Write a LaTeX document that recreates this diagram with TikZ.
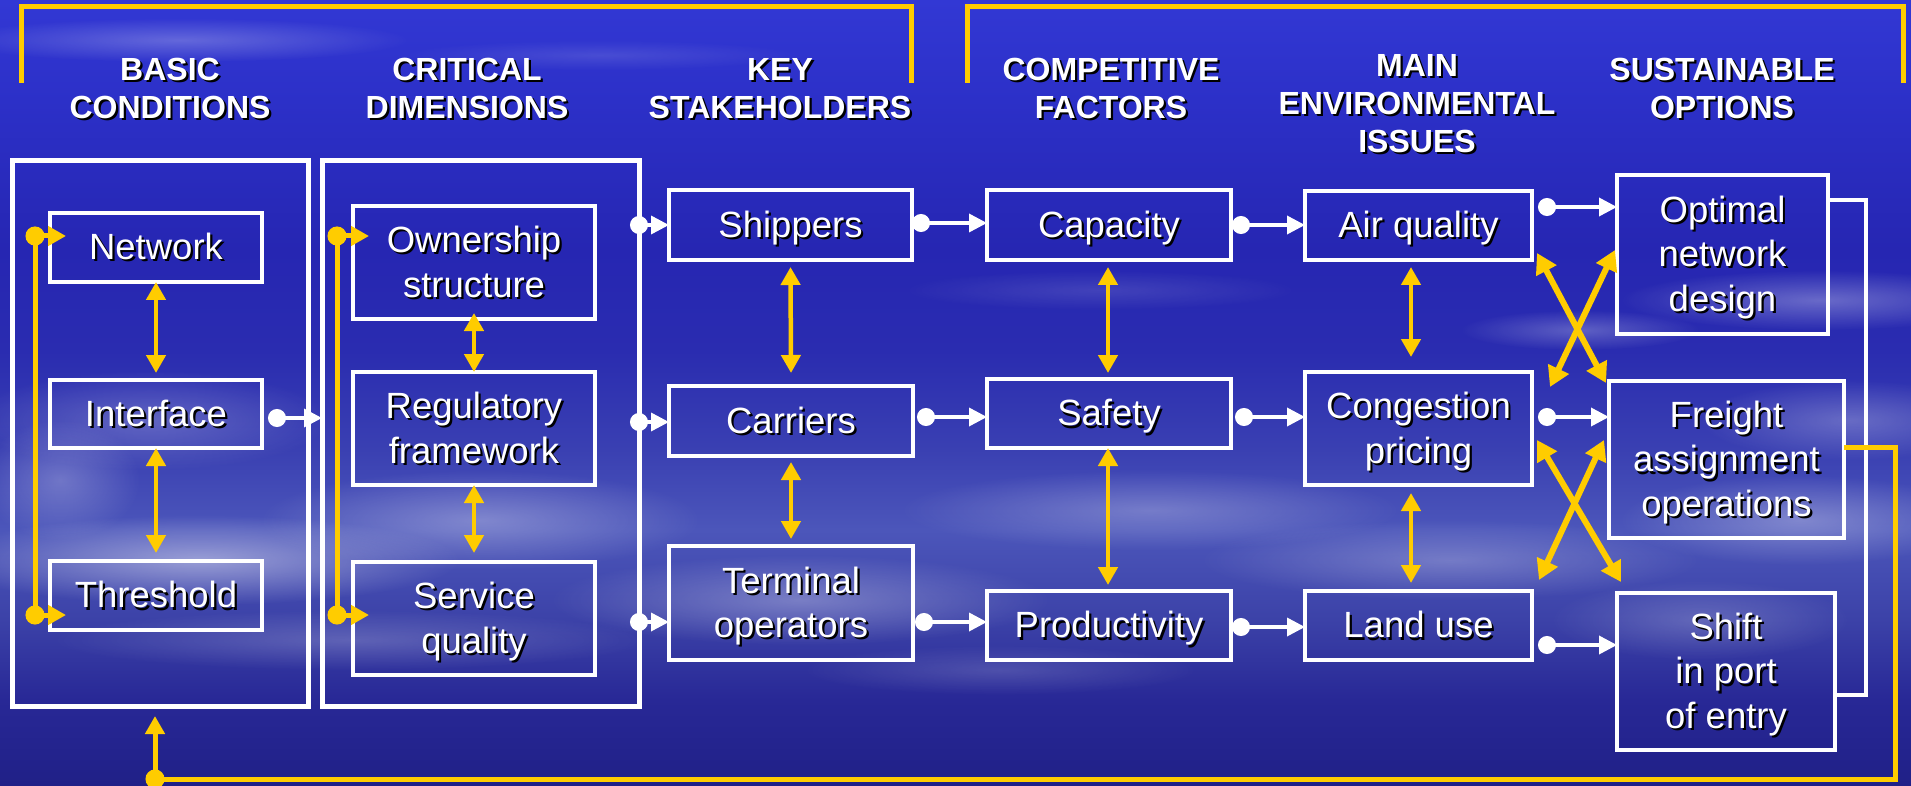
\documentclass[tikz,border=0pt]{standalone}
\usepackage{fontspec}
\setmainfont{Liberation Sans}
\usetikzlibrary{arrows.meta,calc,fadings}

\definecolor{gold}{RGB}{255,204,0}
\definecolor{bgA}{RGB}{50,56,212}
\definecolor{bgB}{RGB}{44,48,200}
\definecolor{bgC}{RGB}{38,38,178}
\definecolor{bgD}{RGB}{42,44,176}
\definecolor{bgE}{RGB}{58,64,178}
\definecolor{bgF}{RGB}{76,86,186}
\definecolor{bgG}{RGB}{60,66,168}
\definecolor{bgH}{RGB}{40,40,150}
\definecolor{bgI}{RGB}{32,32,135}

\pgfdeclareverticalshading{bgsh}{100bp}{%
color(0bp)=(bgI); color(25bp)=(bgI); color(30.5bp)=(bgH); color(35.6bp)=(bgG);
color(41.3bp)=(bgF); color(46.4bp)=(bgE); color(52.7bp)=(bgD); color(59.1bp)=(bgC);
color(68.6bp)=(bgB); color(75bp)=(bgA); color(100bp)=(bgA)}

\tikzfading[name=cloudfade, inner color=transparent!0, outer color=transparent!100]

\newcommand{\shtab}[1]{\rlap{\kern2.2pt\raisebox{-2.2pt}{\color{black}\begin{tabular}{@{}c@{}}#1\end{tabular}}}\begin{tabular}{@{}c@{}}#1\end{tabular}}
\newcommand{\boxtxt}[1]{\raisebox{-4.5pt}[\height][\depth]{\shtab{#1}}}

\tikzset{
  bx/.style={draw=white, line width=4pt, inner sep=0pt, outer sep=0pt, text=white,
    font=\fontsize{36.5}{44.5}\selectfont},
  cont/.style={draw=white, line width=5pt, inner sep=0pt, outer sep=0pt},
  hdr/.style={text=white, inner sep=0pt, font=\fontsize{32}{38}\selectfont\bfseries},
  warr/.style={draw=white, line width=3.5pt,
    {Circle[length=18pt,width=18pt]}-{Triangle[length=18pt,width=18pt]}},
  ydarr/.style={draw=gold, line width=4.5pt,
    {Triangle[length=18pt,width=19pt]}-{Triangle[length=18pt,width=19pt]}},
  xarr/.style={draw=gold, line width=6pt,
    {Triangle[length=20pt,width=22pt]}-{Triangle[length=20pt,width=22pt]}},
  ycarr/.style={draw=gold, line width=5pt,
    {Circle[length=19pt,width=19pt]}-{Triangle[length=18pt,width=19pt]}},
  yline/.style={draw=gold, line width=5pt},
  wline/.style={draw=white, line width=4pt},
  cloud/.style={fill=white, path fading=cloudfade, opacity=#1}
}

\begin{document}
\begin{tikzpicture}[x=1pt,y=-1pt]
\useasboundingbox (0,0) rectangle (1911,786);
% background
\shade[shading=bgsh] (0,0) rectangle (1911,786);
\fill[cloud=.25] (180,40) ellipse [x radius=230, y radius=22];
\fill[cloud=.12] (600,55) ellipse [x radius=200, y radius=15];
\fill[cloud=.12] (1100,290) ellipse [x radius=200, y radius=20];
\fill[cloud=.30] (1820,300) ellipse [x radius=200, y radius=30];
\fill[cloud=.25] (1580,330) ellipse [x radius=120, y radius=20];
\fill[cloud=.25] (1850,420) ellipse [x radius=150, y radius=40];
\fill[cloud=.22] (150,420) ellipse [x radius=180, y radius=50];
\fill[cloud=.25] (60,480) ellipse [x radius=80, y radius=60];
\fill[cloud=.45] (200,560) ellipse [x radius=260, y radius=45];
\fill[cloud=.30] (480,520) ellipse [x radius=220, y radius=50];
\fill[cloud=.30] (800,600) ellipse [x radius=250, y radius=45];
\fill[cloud=.25] (1150,510) ellipse [x radius=250, y radius=40];
\fill[cloud=.25] (1450,560) ellipse [x radius=250, y radius=40];
\fill[cloud=.30] (1800,520) ellipse [x radius=180, y radius=45];
\fill[cloud=.20] (350,640) ellipse [x radius=300, y radius=30];
\fill[cloud=.15] (1000,670) ellipse [x radius=200, y radius=25];
\fill[cloud=.20] (1700,620) ellipse [x radius=150, y radius=40];

% top brackets
\draw[yline] (21,83) -- (21,7) -- (911,7) -- (911,83);
\draw[yline] (967,83) -- (967,7) -- (1903,7) -- (1903,83);

% headers
\node[hdr] (hBasic) at (170,93) {\shtab{BASIC\\CONDITIONS}};
\node[hdr] (hCrit) at (467,93) {\shtab{CRITICAL\\DIMENSIONS}};
\node[hdr] (hKey) at (780,93) {\shtab{KEY\\STAKEHOLDERS}};
\node[hdr] (hComp) at (1111,93) {\shtab{COMPETITIVE\\FACTORS}};
\node[hdr] (hMain) at (1417,108) {\shtab{MAIN\\ENVIRONMENTAL\\ISSUES}};
\node[hdr] (hSust) at (1722,93) {\shtab{SUSTAINABLE\\OPTIONS}};

% containers
\node[cont, minimum width=295.5, minimum height=545] (C1) at (160.25,433.5) {};
\node[cont, minimum width=317, minimum height=545] (C2) at (480.5,433.5) {};

% boxes
\node[bx, minimum width=212, minimum height=69] (Network) at (156,247.5) {\boxtxt{Network}};
\node[bx, minimum width=212, minimum height=68] (Interface) at (156,414) {\boxtxt{Interface}};
\node[bx, minimum width=212, minimum height=69] (Threshold) at (156,595.5) {\boxtxt{Threshold}};
\node[bx, minimum width=242, minimum height=113] (Ownership) at (474,262.5) {\boxtxt{Ownership\\structure}};
\node[bx, minimum width=242, minimum height=113] (Regulatory) at (474,428.5) {\boxtxt{Regulatory\\framework}};
\node[bx, minimum width=242, minimum height=113] (Service) at (474,618.5) {\boxtxt{Service\\quality}};
\node[bx, minimum width=243, minimum height=70] (Shippers) at (790.5,225) {\boxtxt{Shippers}};
\node[bx, minimum width=244, minimum height=70] (Carriers) at (791,421) {\boxtxt{Carriers}};
\node[bx, minimum width=244, minimum height=114] (Terminal) at (791,603) {\boxtxt{Terminal\\operators}};
\node[bx, minimum width=244, minimum height=70] (Capacity) at (1109,225) {\boxtxt{Capacity}};
\node[bx, minimum width=244, minimum height=69] (Safety) at (1109,413.5) {\boxtxt{Safety}};
\node[bx, minimum width=244, minimum height=69] (Productivity) at (1109,625.5) {\boxtxt{Productivity}};
\node[bx, minimum width=227, minimum height=69] (Air) at (1418.5,225.5) {\boxtxt{Air quality}};
\node[bx, minimum width=227, minimum height=113] (Congestion) at (1418.5,428.5) {\boxtxt{Congestion\\pricing}};
\node[bx, minimum width=227, minimum height=69] (Land) at (1418.5,625.5) {\boxtxt{Land use}};
\node[bx, minimum width=211, minimum height=159] (Optimal) at (1722.5,254.5) {\boxtxt{Optimal\\network\\design}};
\node[bx, minimum width=235, minimum height=157] (Freight) at (1726.5,459.5) {\boxtxt{Freight\\assignment\\operations}};
\node[bx, minimum width=218, minimum height=157] (Shift) at (1726,671.5) {\boxtxt{Shift\\in port\\of entry}};

% yellow loops inside containers
\coordinate (l1t) at (35,236);
\coordinate (l1b) at (35,615);
\coordinate (l2t) at (337,236);
\coordinate (l2b) at (337,615);
\draw[yline] (l1t) -- (l1b);
\draw[yline] (l2t) -- (l2b);
\draw[ycarr] ($(l1t)+(-9.5,0)$) -- ($(l1t -| Network.west)+(16,0)$);
\draw[ycarr] ($(l1b)+(-9.5,0)$) -- ($(l1b -| Threshold.west)+(16,0)$);
\draw[ycarr] ($(l2t)+(-9.5,0)$) -- ($(l2t -| Ownership.west)+(16,0)$);
\draw[ycarr] ($(l2b)+(-9.5,0)$) -- ($(l2b -| Service.west)+(16,0)$);

% vertical double arrows
\draw[ydarr] (Network.south) -- ($(Interface.north)+(0,-7)$);
\draw[ydarr] (Interface.south) -- ($(Threshold.north)+(0,-8)$);
\draw[ydarr] ($(Ownership.south)+(0,-6)$) -- (Regulatory.north);
\draw[ydarr] (Regulatory.south) -- ($(Service.north)+(0,-9)$);
\draw[ydarr] ($(Shippers.south)+(0,7)$) -- ($(Carriers.north)+(0,-13)$);
\draw[ydarr] ($(Carriers.south)+(0,6)$) -- ($(Terminal.north)+(0,-7)$);
\draw[ydarr] ($(Capacity.south)+(-1,7)$) -- ($(Safety.north)+(-1,-6)$);
\draw[ydarr] ($(Safety.south)+(-1,0)$) -- ($(Productivity.north)+(-1,-6)$);
\draw[ydarr] ($(Air.south)+(-7.5,7)$) -- ($(Congestion.north)+(-7.5,-15)$);
\draw[ydarr] ($(Congestion.south)+(-7.5,8)$) -- ($(Land.north)+(-7.5,-8)$);

% white arrows
\draw[warr] ($(Interface.east)+(6,4)$) coordinate (i1) -- (i1 -| C2.west);
\draw[warr] ($(C2.east |- Shippers.west)+(-9,0)$) coordinate (s0) -- (s0 -| Shippers.west);
\draw[warr] ($(C2.east |- Carriers.west)+(-9,1)$) coordinate (c0) -- (c0 -| Carriers.west);
\draw[warr] ($(C2.east |- Terminal.west)+(-9,19)$) coordinate (t0) -- (t0 -| Terminal.west);
\draw[warr] ($(Shippers.east)+(0,-2)$) coordinate (s1) -- (s1 -| Capacity.west);
\draw[warr] ($(Carriers.east)+(4,-4)$) coordinate (c1) -- (c1 -| Safety.west);
\draw[warr] ($(Terminal.east)+(2,19)$) coordinate (t1) -- (t1 -| Productivity.west);
\draw[warr] ($(Capacity.east)+(1,0)$) coordinate (s2) -- (s2 -| Air.west);
\draw[warr] ($(Safety.east)+(4,3.5)$) coordinate (c2) -- (c2 -| Congestion.west);
\draw[warr] ($(Productivity.east)+(1,1.5)$) coordinate (t2) -- (t2 -| Land.west);
\draw[warr] ($(Air.east)+(6,-18.5)$) coordinate (s3) -- (s3 -| Optimal.west);
\draw[warr] ($(Congestion.east)+(6,-11.5)$) coordinate (c3) -- (c3 -| Freight.west);
\draw[warr] ($(Land.east)+(6,19.5)$) coordinate (t3) -- (t3 -| Shift.west);

% crossing arrows
\draw[xarr] ($(Air.south east)+(5,-7)$) -- ($(Freight.north west)+(-3,2)$);
\draw[xarr] ($(Optimal.west)+(-2,-4.5)$) -- ($(Congestion.north east)+(18,15)$);
\draw[xarr] ($(Congestion.east)+(5,11.5)$) -- ($(Shift.north west)+(4,-11)$);
\draw[xarr] ($(Freight.west)+(-5,-19.5)$) -- ($(Land.north east)+(7,-11)$);

% right white bracket
\draw[wline] ($(Optimal.east)+(0,-54.5)$) -- ++(38,0) |- ($(Shift.east)+(0,23.5)$);

% yellow feedback loop
\coordinate (lr) at (1895,779);
\coordinate (ll) at (155,779);
\draw[yline] ($(Freight.east)+(0,-12.5)$) -| (lr) -- (ll);
\draw[ycarr] ($(ll)+(0,9.5)$) -- ($(ll |- C1.south)+(0,10)$);
\end{tikzpicture}
\end{document}
